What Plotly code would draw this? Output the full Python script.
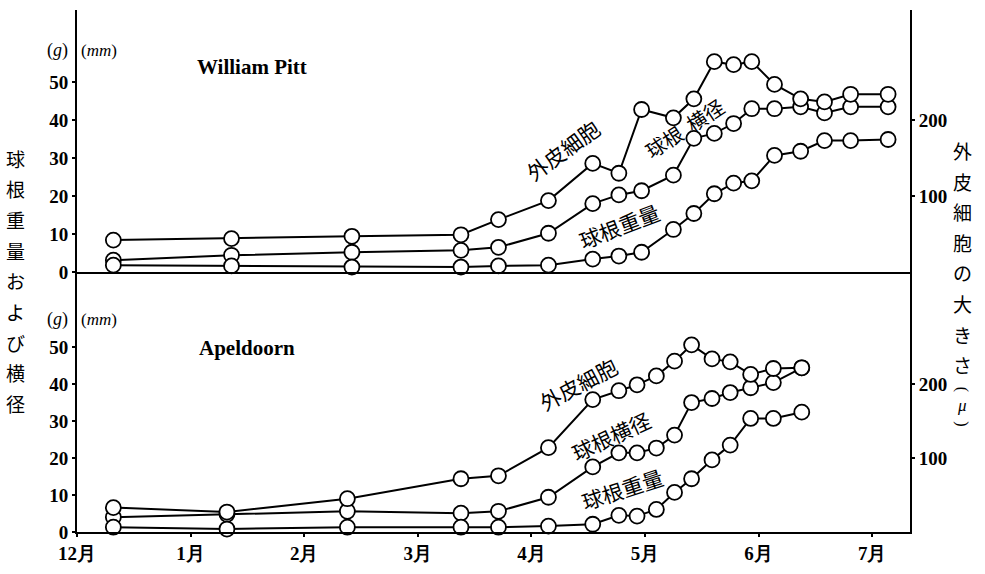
import plotly.graph_objects as go

# ---------------- data ----------------
month_labels = ["12月", "1月", "2月", "3月", "4月", "5月", "6月", "7月"]
month_ticks = [0, 1, 2, 3, 4, 5, 6, 7]          # 0 = 1 Dec, 1 = 1 Jan, ...

# William Pitt (upper panel)
wp_x = [0.32, 1.36, 2.42, 3.38, 3.71, 4.15, 4.54, 4.77, 4.97, 5.25,
        5.43, 5.61, 5.78, 5.94, 6.14, 6.37, 6.58, 6.81, 7.14]
wp_cell = [42, 44, 47, 49, 69, 94, 143, 130, 214, 203,
           228, 277, 273, 277, 247, 228, 224, 234, 234]          # μ (right axis)
wp_diam = [3.1, 4.4, 5.2, 5.7, 6.5, 10.2, 18.0, 20.3, 21.4, 25.5,
           35.2, 36.5, 39.1, 43.0, 43.0, 43.5, 41.9, 43.5, 43.5]  # mm
wp_weight = [1.8, 1.6, 1.3, 1.3, 1.6, 1.8, 3.4, 4.2, 5.2, 11.2,
             15.4, 20.6, 23.4, 24.0, 30.7, 31.8, 34.6, 34.6, 34.9]  # g

# Apeldoorn (lower panel)
ap_x = [0.32, 1.32, 2.38, 3.38, 3.71, 4.15, 4.54, 4.77, 4.93, 5.10,
        5.26, 5.41, 5.59, 5.75, 5.93, 6.13, 6.38]
ap_cell = [33, 27, 45, 72, 76, 114, 179, 191, 199, 211,
           231, 253, 234, 230, 213, 221, 222]
ap_diam = [4.0, 4.8, 5.6, 5.1, 5.6, 9.4, 17.6, 21.4, 21.4, 22.7,
           26.2, 35.0, 36.1, 37.7, 39.0, 40.4, 44.4]
ap_weight = [1.3, 0.8, 1.3, 1.3, 1.3, 1.6, 2.1, 4.5, 4.3, 6.1,
             10.7, 14.4, 19.5, 23.5, 30.7, 30.7, 32.4]

left_ticks = [0, 10, 20, 30, 40, 50]
right_ticks = [100, 200]

# ---------------- layout helpers ----------------
W, H = 985, 574
L, R, T, B = 77, 910, 10, 538
MID = 275


def px(x):
    return (x - L) / (R - L)


def py(y):
    return (B - y) / (B - T)


split = py(MID)

fig = go.Figure()
line_style = dict(color="black", width=2)
marker_style = dict(symbol="circle", size=15, color="white",
                    line=dict(color="black", width=1.8))

series = [
    (wp_x, wp_cell, "x", "y2"),
    (wp_x, wp_diam, "x", "y"),
    (wp_x, wp_weight, "x", "y"),
    (ap_x, ap_cell, "x2", "y4"),
    (ap_x, ap_diam, "x2", "y3"),
    (ap_x, ap_weight, "x2", "y3"),
]
for xs, ys, xa, ya in series:
    fig.add_trace(go.Scatter(x=xs, y=ys, xaxis=xa, yaxis=ya, mode="lines",
                             line=line_style, showlegend=False, hoverinfo="skip",
                             cliponaxis=False))
for xs, ys, xa, ya in series:
    fig.add_trace(go.Scatter(x=xs, y=ys, xaxis=xa, yaxis=ya, mode="markers",
                             marker=marker_style, showlegend=False,
                             cliponaxis=False))

num_font = dict(family="Liberation Serif", size=19, color="black", weight="bold")
axis_common = dict(showline=True, linecolor="black", linewidth=2, showgrid=False,
                   zeroline=False, ticks="outside", ticklen=3, tickwidth=2,
                   tickcolor="black", tickfont=num_font)
xr = [0, (R - L) / 113.6]

fig.update_layout(
    width=W, height=H,
    margin=dict(l=L, r=W - R, t=T, b=H - B),
    paper_bgcolor="white", plot_bgcolor="white",
    xaxis=dict(domain=[0, 1], anchor="y", range=xr, showline=True,
               linecolor="black", linewidth=2, showgrid=False, zeroline=False,
               showticklabels=False, ticks=""),
    xaxis2=dict(domain=[0, 1], anchor="y3", range=xr, tickvals=month_ticks,
                ticktext=month_labels, **axis_common),
    yaxis=dict(domain=[split, 1], anchor="x", range=[0, 69],
               tickvals=left_ticks, **axis_common),
    yaxis2=dict(overlaying="y", side="right", anchor="x", range=[0, 69 * 5],
                tickvals=right_ticks, **axis_common),
    yaxis3=dict(domain=[0, split], anchor="x2", range=[0, 70.3],
                tickvals=left_ticks, **axis_common),
    yaxis4=dict(overlaying="y3", side="right", anchor="x2", range=[0, 70.3 * 5],
                tickvals=right_ticks, **axis_common),
)

jp = "Noto Sans CJK JP"
ann = []


def add_text(text, x, y, size=20, angle=0, family=jp, **kw):
    ann.append(dict(text=text, x=px(x), y=py(y), xref="paper", yref="paper",
                    showarrow=False, textangle=angle, xanchor="center",
                    yanchor="middle", font=dict(family=family, size=size,
                                                color="black", **kw)))


# vertical axis titles
for ch, yy in zip("球根重量および横径", [160, 191, 222, 253, 284, 315, 346, 377, 408]):
    add_text(ch, 15, yy, size=19)
for ch, yy in zip("外皮細胞の大きさ", [152, 183, 214, 245, 276, 307, 338, 369]):
    add_text(ch, 962, yy, size=19)
add_text("(", 962, 393, size=16, angle=90, family="Liberation Serif")
add_text("<i>μ</i>", 962, 410, size=17, family="Liberation Serif")
add_text(")", 962, 428, size=16, angle=90, family="Liberation Serif")

# unit labels
for yy in (51, 323):
    add_text("(<i>g</i>)", 57, yy, size=18, family="Liberation Serif")
    add_text("(<i>mm</i>)", 99, yy, size=17, family="Liberation Serif")

# panel titles
add_text("William Pitt", 252, 68, size=21, family="Liberation Serif", weight="bold")
add_text("Apeldoorn", 247, 352, size=21, family="Liberation Serif", weight="bold")

# series labels
add_text("外皮細胞", 563, 152, size=21, angle=-36)
add_text("球根  横径", 684, 130, size=20, angle=-33)
add_text("球根重量", 619, 228, size=21, angle=-21)
add_text("外皮細胞", 578, 388, size=21, angle=-28)
add_text("球根横径", 611, 441, size=21, angle=-25)
add_text("球根重量", 622, 494, size=21, angle=-18)

fig.update_layout(annotations=ann)
fig.write_html("out.html")
